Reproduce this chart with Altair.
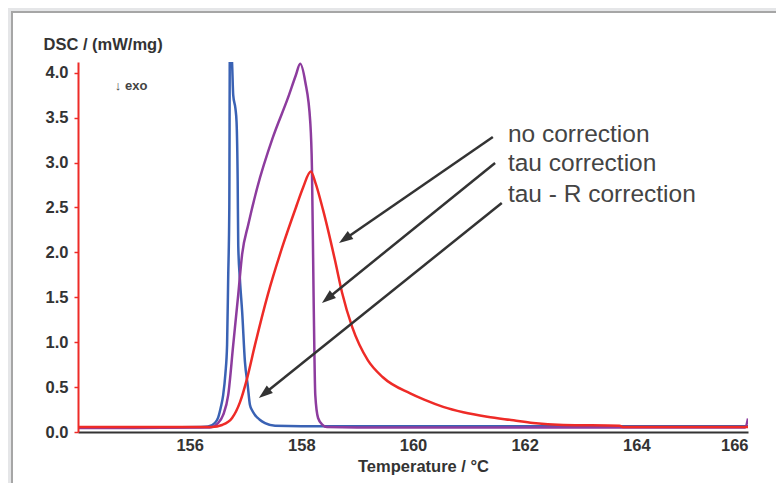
import altair as alt
import pandas as pd
import numpy as np

# ---- data ----
blue_x = [154.0, 155.5, 156.2, 156.33, 156.45, 156.51, 156.56, 156.60, 156.64, 156.67, 156.69, 156.71,
          156.72, 156.74, 156.76, 156.78, 156.82, 156.84, 156.86, 156.87, 156.90, 156.94, 156.99,
          157.04, 157.08, 157.12, 157.17, 157.25, 157.35, 157.53, 158.0, 160.0, 162.0, 164.0, 166.0]
blue_y = [0.05, 0.05, 0.055, 0.06, 0.10, 0.16, 0.28, 0.41, 0.65, 0.97, 1.72, 2.5,
          4.3, 4.3, 4.1, 3.75, 3.6, 3.45, 2.79, 2.08, 1.7, 1.34, 0.78,
          0.52, 0.30, 0.24, 0.19, 0.14, 0.10, 0.07, 0.065, 0.065, 0.065, 0.065, 0.065]

purple_x = [154.0, 155.0, 156.0, 156.36, 156.51, 156.60, 156.69, 156.78, 156.87, 156.94, 157.05,
            157.21, 157.49, 157.76, 157.90, 157.98, 158.07, 158.16, 158.19, 158.22, 158.25, 158.30,
            158.38, 158.46, 159.0, 160.0, 162.0, 164.0, 165.95, 166.0]
purple_y = [0.045, 0.045, 0.05, 0.05, 0.10, 0.19, 0.41, 0.97, 1.53, 1.98, 2.31,
            2.72, 3.28, 3.72, 3.97, 4.10, 3.90, 3.45, 2.94, 1.5, 0.41, 0.156,
            0.08, 0.055, 0.05, 0.05, 0.05, 0.05, 0.05, 0.15]

red_x = [154.0, 156.0, 156.40, 156.58, 156.76, 156.90, 157.03, 157.17, 157.40, 157.67, 157.92,
         158.03, 158.17, 158.25, 158.39, 158.60, 158.73, 158.91, 159.19, 159.46, 159.95, 160.20,
         160.54, 160.90, 161.33, 161.80, 162.15, 162.69, 163.7, 163.76, 166.0]
red_y = [0.056, 0.056, 0.056, 0.078, 0.156, 0.33, 0.60, 0.97, 1.53, 2.08, 2.53,
         2.72, 2.90, 2.78, 2.47, 1.92, 1.55, 1.17, 0.80, 0.61, 0.43, 0.36,
         0.28, 0.22, 0.17, 0.13, 0.10, 0.078, 0.07, 0.056, 0.056]

labels = ["no correction", "tau correction", "tau - R correction"]
label_x = [161.70, 161.70, 161.70]
label_y = [3.307, 2.984, 2.639]
arrow_x0 = [161.43, 161.47, 161.59]
arrow_y0 = [3.285, 2.996, 2.55]
arrow_x1 = [158.675, 158.37, 157.24]
arrow_y1 = [2.105, 1.437, 0.379]

x_ticks = [156, 158, 160, 162, 164, 166]
y_ticks = [i * 0.25 for i in range(17)]

# ---- layout ----
W, H = 670, 370
XDOM = [154, 166]
YDOM = [0, 4.12]
px_x = W / (XDOM[1] - XDOM[0])
px_y = H / (YDOM[1] - YDOM[0])

BLUE = "#3a62b4"
PURPLE = "#8d3c9e"
RED = "#ee2b27"
TXT = "#333333"
FONT = "Liberation Sans"

xs = alt.Scale(domain=XDOM, nice=False, zero=False)
ys = alt.Scale(domain=YDOM, nice=False)

# arrow geometry (angle of arrowhead, shortened shaft)
ang, sx2, sy2 = [], [], []
for a, b, c, d in zip(arrow_x0, arrow_y0, arrow_x1, arrow_y1):
    dx = (c - a) * px_x
    dy = -(d - b) * px_y
    L = np.hypot(dx, dy)
    ang.append(float(np.degrees(np.arctan2(dx, -dy)) % 360))
    sx2.append(c - (dx / L) * 8 / px_x)
    sy2.append(d + (dy / L) * 8 / px_y)

arrows = pd.DataFrame({"x0": arrow_x0, "y0": arrow_y0, "x1": arrow_x1, "y1": arrow_y1,
                       "sx2": sx2, "sy2": sy2, "angle": ang})
lab_df = pd.DataFrame({"label": labels, "x": label_x, "y": label_y})

xaxis = alt.Axis(values=x_ticks, format="d", title="Temperature / °C", grid=False, ticks=False,
                 domainColor=TXT, domainWidth=2, labelFont=FONT, labelFontSize=16.5,
                 labelFontWeight="bold", labelColor=TXT, labelPadding=5,
                 titleFont=FONT, titleFontSize=16.5, titleFontWeight="bold", titleColor=TXT,
                 titlePadding=5, titleX=345, zindex=1)
yaxis = alt.Axis(values=y_ticks, title="DSC / (mW/mg)", grid=False, tickColor=RED,
                 tickSize=4, tickWidth=1.5, domainColor=RED, domainWidth=2,
                 labelExpr="datum.value % 0.5 == 0 ? format(datum.value, '.1f') : ''",
                 labelFont=FONT, labelFontSize=16.5, labelFontWeight="bold", labelColor=TXT,
                 labelPadding=6, titleFont=FONT, titleFontSize=16.5, titleFontWeight="bold",
                 titleColor=TXT, titleAngle=0, titleAlign="left", titleBaseline="middle",
                 titleX=-35, titleY=-18, zindex=1)

panel = alt.Chart(pd.DataFrame({"a": [0]})).mark_rect(
    fill="white", stroke="#a6a6a6", strokeWidth=2
).encode(x=alt.value(-66), x2=alt.value(900), y=alt.value(-50), y2=alt.value(600))

def curve(xv, yv, color):
    df = pd.DataFrame({"T": xv, "DSC": yv})
    return alt.Chart(df).mark_line(color=color, strokeWidth=2.5, clip=True,
                                   interpolate="monotone").encode(
        x=alt.X("T:Q", scale=xs, axis=xaxis),
        y=alt.Y("DSC:Q", scale=ys, axis=yaxis),
    )

shafts = alt.Chart(arrows).mark_rule(color="#333333", strokeWidth=2.5).encode(
    x=alt.X("x0:Q", scale=xs), y=alt.Y("y0:Q", scale=ys), x2="sx2:Q", y2="sy2:Q")
heads = alt.Chart(arrows).mark_point(
    shape="M0,0 L0.7,2 L-0.7,2 Z", filled=True, color="#333333", opacity=1, size=196
).encode(x=alt.X("x1:Q", scale=xs), y=alt.Y("y1:Q", scale=ys), angle=alt.Angle("angle:Q", scale=None))

texts = alt.Chart(lab_df).mark_text(
    align="left", baseline="middle", font=FONT, fontSize=24.5, color="#444444"
).encode(x=alt.X("x:Q", scale=xs), y=alt.Y("y:Q", scale=ys), text="label:N")

exo = alt.Chart(pd.DataFrame({"x": [154.66], "y": [3.85], "t": ["↓ exo"]})).mark_text(
    align="left", baseline="middle", font=FONT, fontSize=13, fontWeight="bold", color="#444444"
).encode(x=alt.X("x:Q", scale=xs), y=alt.Y("y:Q", scale=ys), text="t:N")

chart = alt.layer(
    panel, curve(blue_x, blue_y, BLUE), curve(purple_x, purple_y, PURPLE),
    curve(red_x, red_y, RED), shafts, heads, texts, exo
).properties(
    width=W, height=H,
    autosize=alt.AutoSizeParams(type="none"),
    padding={"left": 70, "top": 54, "right": 28, "bottom": 51},
    background="#e5e6e8",
).configure_view(stroke=None)

chart.save("out.html", embed_options={"renderer": "svg", "actions": False})
